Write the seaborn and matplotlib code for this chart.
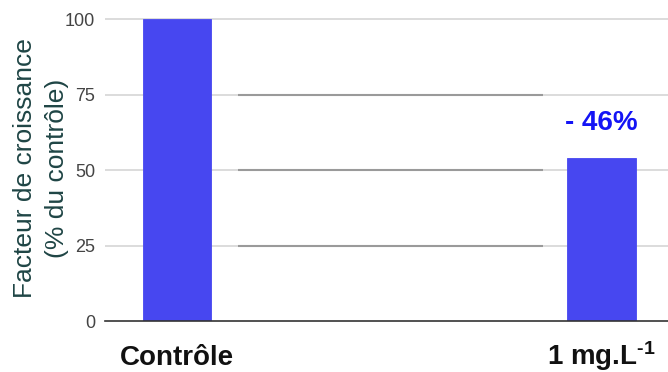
import matplotlib
matplotlib.use("Agg")
import matplotlib.pyplot as plt
import seaborn as sns
import pandas as pd

# Growth factor relative to the control, per treatment
categories = ["Contrôle", "T1", "T2", "T3", "1 mg.L-1"]
tick_labels = ["Contrôle", "", "", "", "1 mg.L$^{\\text{-1}}$"]
values = [100, 0, 0, 0, 54]
y_ticks = [0, 25, 50, 75, 100]

df = pd.DataFrame({"categorie": categories, "valeur": values})

sns.set_theme(style="white")
plt.rcParams["font.family"] = ["Liberation Sans", "DejaVu Sans"]
plt.rcParams["mathtext.fontset"] = "custom"
plt.rcParams["mathtext.rm"] = "Liberation Sans:bold"
plt.rcParams["mathtext.bf"] = "Liberation Sans:bold"
plt.rcParams["mathtext.default"] = "bf"

fig = plt.figure(figsize=(6.68, 3.72), dpi=100)
ax = fig.add_axes([0.157, 0.137, 0.843, 0.820])

bar_color = "#4747F0"

# gridlines: light full-width lines, darker segments in the middle
for y in y_ticks[1:]:
    ax.axhline(y, color="#d2d2d2", lw=1.1, zorder=0)
for y in y_ticks[1:-1]:
    ax.hlines(y, 0.58, 3.45, color="#9a9a9a", lw=1.5, zorder=0.5)

sns.barplot(data=df, x="categorie", y="valeur", order=categories,
            color=bar_color, saturation=1, width=0.65,
            edgecolor=bar_color, linewidth=0.6, ax=ax, zorder=2)

# reduction label above the treated bar
reduction = values[0] - values[-1]
ax.annotate(f"- {reduction}%", xy=(4, values[-1]), xytext=(0, 25),
            textcoords="offset points", ha="center", va="center",
            fontsize=20, fontweight="bold", color="#1414F5")

ax.set_xlim(-0.68, 4.63)
ax.set_ylim(0, 101)
ax.set_yticks(y_ticks)
ax.set_yticklabels([str(t) for t in y_ticks], fontsize=13, color="#444444")
ax.set_xticks(range(len(categories)))
ax.set_xticklabels(tick_labels, fontsize=20, fontweight="bold",
                   color="#111111", va="baseline")
ax.tick_params(axis="y", length=0, pad=7)
ax.tick_params(axis="x", length=0, pad=32)

ax.set_xlabel("")
ax.set_ylabel("Facteur de croissance\n(% du contrôle)", fontsize=19,
              color="#1f4545", linespacing=1.4, va="center", ha="center")
ax.yaxis.set_label_coords(-0.113, 0.5)

for side in ["left", "right", "top"]:
    ax.spines[side].set_visible(False)
ax.spines["bottom"].set_color("#333333")
ax.spines["bottom"].set_linewidth(1.2)
ax.spines["bottom"].set_zorder(3)

fig.savefig("out.png", dpi=100)
